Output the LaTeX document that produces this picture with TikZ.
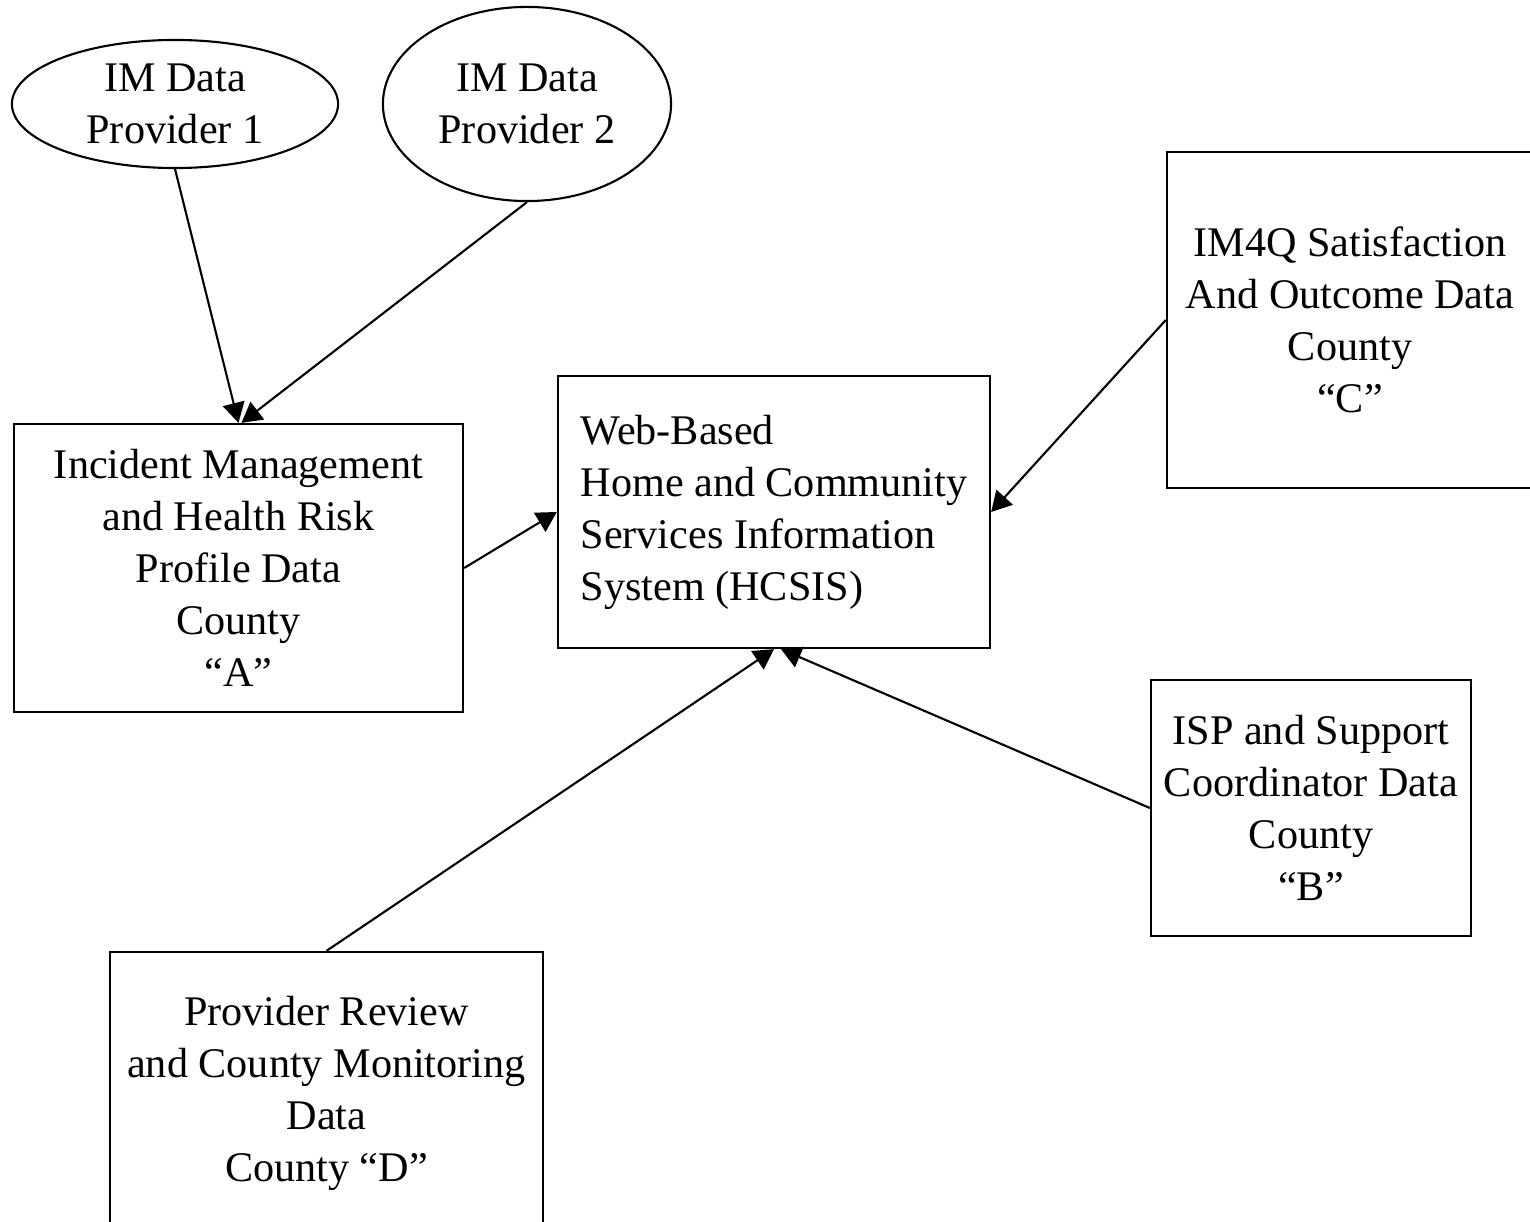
\documentclass[tikz,border=0pt]{standalone}
\usepackage{fontspec}
\setmainfont{Liberation Serif}
\usetikzlibrary{shapes.geometric,arrows.meta}

\begin{document}
\begin{tikzpicture}[x=0.01cm, y=-0.01cm, line width=0.6pt,
    >={Triangle[length=0.2cm, width=0.22cm]},
    box/.style={rectangle, draw=black, inner sep=0pt, align=center, font=\fontsize{12}{14.8}\selectfont},
    source/.style={ellipse, draw=black, inner sep=0pt, align=center, font=\fontsize{12}{14.8}\selectfont}]
        \useasboundingbox (0,0) rectangle (1530,1222);

        % Data providers
        \node[source, minimum width=3.26cm, minimum height=1.28cm] (P1) at (175,104) {IM Data\\Provider 1};
        \node[source, minimum width=2.88cm, minimum height=1.94cm] (P2) at (527,104) {IM Data\\Provider 2};

        % County data boxes
        \node[box, minimum width=4.49cm, minimum height=2.88cm] (A) at (238.5,568) {Incident Management\\and Health Risk\\Profile Data\\County\\“A”};
        \node[box, minimum width=3.66cm, minimum height=3.36cm] (C) at (1350,320) {IM4Q Satisfaction\\And Outcome Data\\County\\“C”};
        \node[box, minimum width=3.20cm, minimum height=2.56cm] (B) at (1311,808) {ISP and Support\\Coordinator Data\\County\\“B”};
        \node[box, minimum width=4.33cm, minimum height=2.83cm] (D) at (326.5,1093.5) {Provider Review\\and County Monitoring\\Data\\County “D”};

        % Central system
        \node[box, align=left, minimum width=4.32cm, minimum height=2.72cm] (H) at (774,512) {Web-Based\\Home and Community\\Services Information\\System (HCSIS)};

        % Connections
        \draw[->] (P1.south) -- (A.north);
        \draw[->] (P2.south) -- ([xshift=0.03cm]A.north);
        \draw[->] (A.east) -- (H.west);
        \draw[->] (C.west) -- (H.east);
        \draw[->] (D.north) -- (H.south);
        \draw[->] (B.west) -- ([xshift=0.07cm]H.south);
    \end{tikzpicture}
\end{document}
